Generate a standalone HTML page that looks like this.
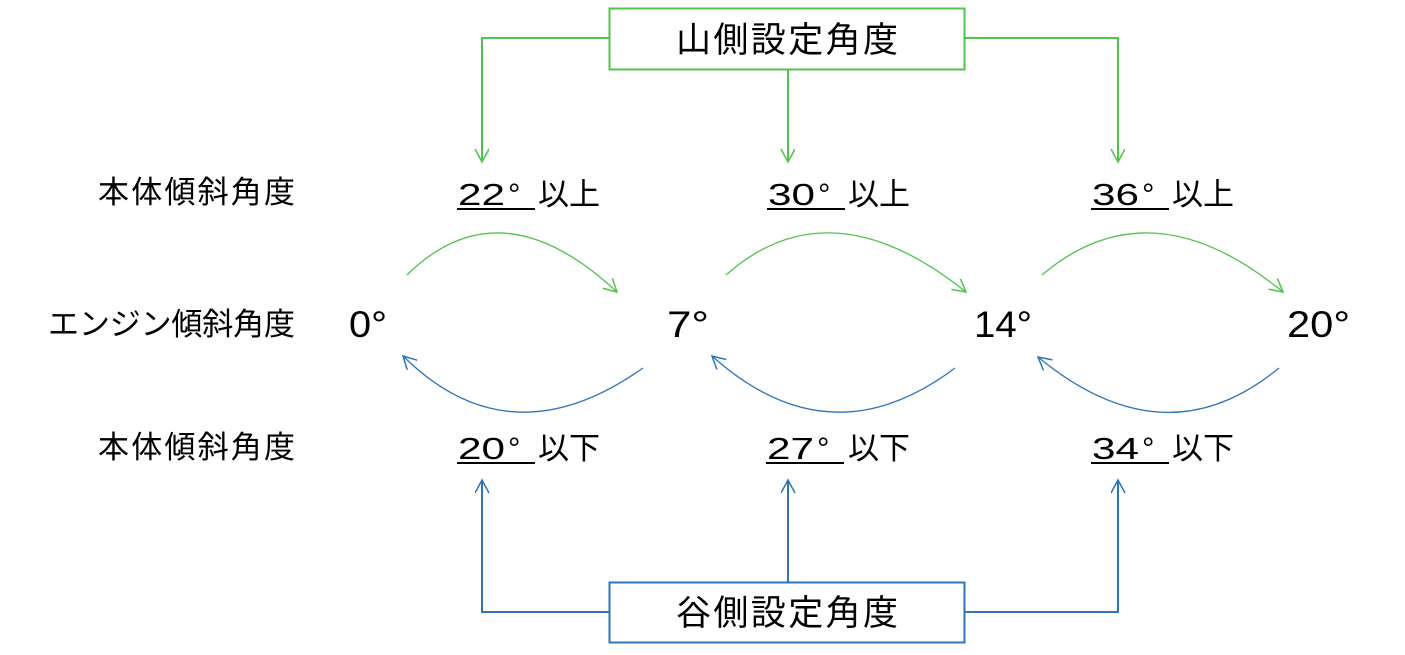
<!DOCTYPE html>
<html><head><meta charset="utf-8"><style>
html,body{margin:0;padding:0;background:#fff;}
svg{display:block;}
text{font-family:"Liberation Sans","Noto Sans CJK JP",sans-serif;fill:#000;}
</style></head><body>
<svg width="1405" height="655" viewBox="0 0 1405 655" xmlns="http://www.w3.org/2000/svg">
<defs>
<marker id="g" markerUnits="userSpaceOnUse" markerWidth="20" markerHeight="20" refX="14" refY="7" orient="auto" viewBox="0 0 20 20">
<path d="M1,0 L14,7 L1,14" fill="none" stroke="#4fc34b" stroke-width="1.5"/></marker>
<marker id="b" markerUnits="userSpaceOnUse" markerWidth="20" markerHeight="20" refX="14" refY="7" orient="auto" viewBox="0 0 20 20">
<path d="M1,0 L14,7 L1,14" fill="none" stroke="#2e75b6" stroke-width="1.5"/></marker>
</defs>
<rect x="609.5" y="8.5" width="355" height="61" fill="#fff" stroke="#4fc34b" stroke-width="2"/>
<text x="787" y="52" font-size="35" text-anchor="middle" textLength="222">山側設定角度</text>
<g fill="none" stroke="#4fc34b" stroke-width="2">
<polyline points="609,38 482,38 482,162" marker-end="url(#g)"/>
<polyline points="788,70 788,162" marker-end="url(#g)"/>
<polyline points="965,38 1118,38 1118,162" marker-end="url(#g)"/>
</g>
<rect x="609.5" y="582.5" width="355" height="60" fill="#fff" stroke="#2e75b6" stroke-width="2"/>
<text x="787" y="625" font-size="35" text-anchor="middle" textLength="222">谷側設定角度</text>
<g fill="none" stroke="#2e75b6" stroke-width="2">
<polyline points="609,612 482,612 482,480" marker-end="url(#b)"/>
<polyline points="788,582 788,480" marker-end="url(#b)"/>
<polyline points="965,612 1118,612 1118,480" marker-end="url(#b)"/>
</g>
<g fill="none" stroke-width="1.3">
<path d="M407,275 Q500,183 617,292" stroke="#4fc34b" marker-end="url(#g)"/>
<path d="M726,275 Q830,183 966,292" stroke="#4fc34b" marker-end="url(#g)"/>
<path d="M1042,275 Q1150,183 1283,292" stroke="#4fc34b" marker-end="url(#g)"/>
<path d="M643,368 Q510,462 403,356" stroke="#2e75b6" marker-end="url(#b)"/>
<path d="M955,368 Q830,462 712,356" stroke="#2e75b6" marker-end="url(#b)"/>
<path d="M1279,368 Q1165,462 1038,357" stroke="#2e75b6" marker-end="url(#b)"/>
</g>
<text x="98" y="203" font-size="31" textLength="197">本体傾斜角度</text>
<text x="48" y="335" font-size="31" textLength="247">エンジン傾斜角度</text>
<text x="98" y="458" font-size="31" textLength="197">本体傾斜角度</text>
<g font-size="37">
<text x="349" y="337" textLength="38" lengthAdjust="spacingAndGlyphs">0°</text>
<text x="667" y="337" textLength="42" lengthAdjust="spacingAndGlyphs">7°</text>
<text x="974" y="337" textLength="58" lengthAdjust="spacingAndGlyphs">14°</text>
<text x="1287" y="337" textLength="63" lengthAdjust="spacingAndGlyphs">20°</text>
</g>
<g font-size="31">
<text x="458" y="205" textLength="47" lengthAdjust="spacingAndGlyphs">22</text><text x="508" y="205">°</text><text x="538" y="205" textLength="62">以上</text>
<text x="768" y="205" textLength="47" lengthAdjust="spacingAndGlyphs">30</text><text x="818" y="205">°</text><text x="848" y="205" textLength="62">以上</text>
<text x="1092" y="205" textLength="47" lengthAdjust="spacingAndGlyphs">36</text><text x="1142" y="205">°</text><text x="1172" y="205" textLength="62">以上</text>
<text x="458" y="459" textLength="47" lengthAdjust="spacingAndGlyphs">20</text><text x="508" y="459">°</text><text x="538" y="459" textLength="62">以下</text>
<text x="767" y="459" textLength="47" lengthAdjust="spacingAndGlyphs">27</text><text x="817" y="459">°</text><text x="848" y="459" textLength="62">以下</text>
<text x="1092" y="459" textLength="47" lengthAdjust="spacingAndGlyphs">34</text><text x="1142" y="459">°</text><text x="1172" y="459" textLength="62">以下</text>
</g>
<g stroke="#000" stroke-width="2">
<line x1="457" y1="209" x2="535" y2="209"/>
<line x1="767" y1="209" x2="845" y2="209"/>
<line x1="1091" y1="209" x2="1169" y2="209"/>
<line x1="457" y1="463" x2="535" y2="463"/>
<line x1="766" y1="463" x2="844" y2="463"/>
<line x1="1091" y1="463" x2="1169" y2="463"/>
</g>
</svg>
</body></html>
